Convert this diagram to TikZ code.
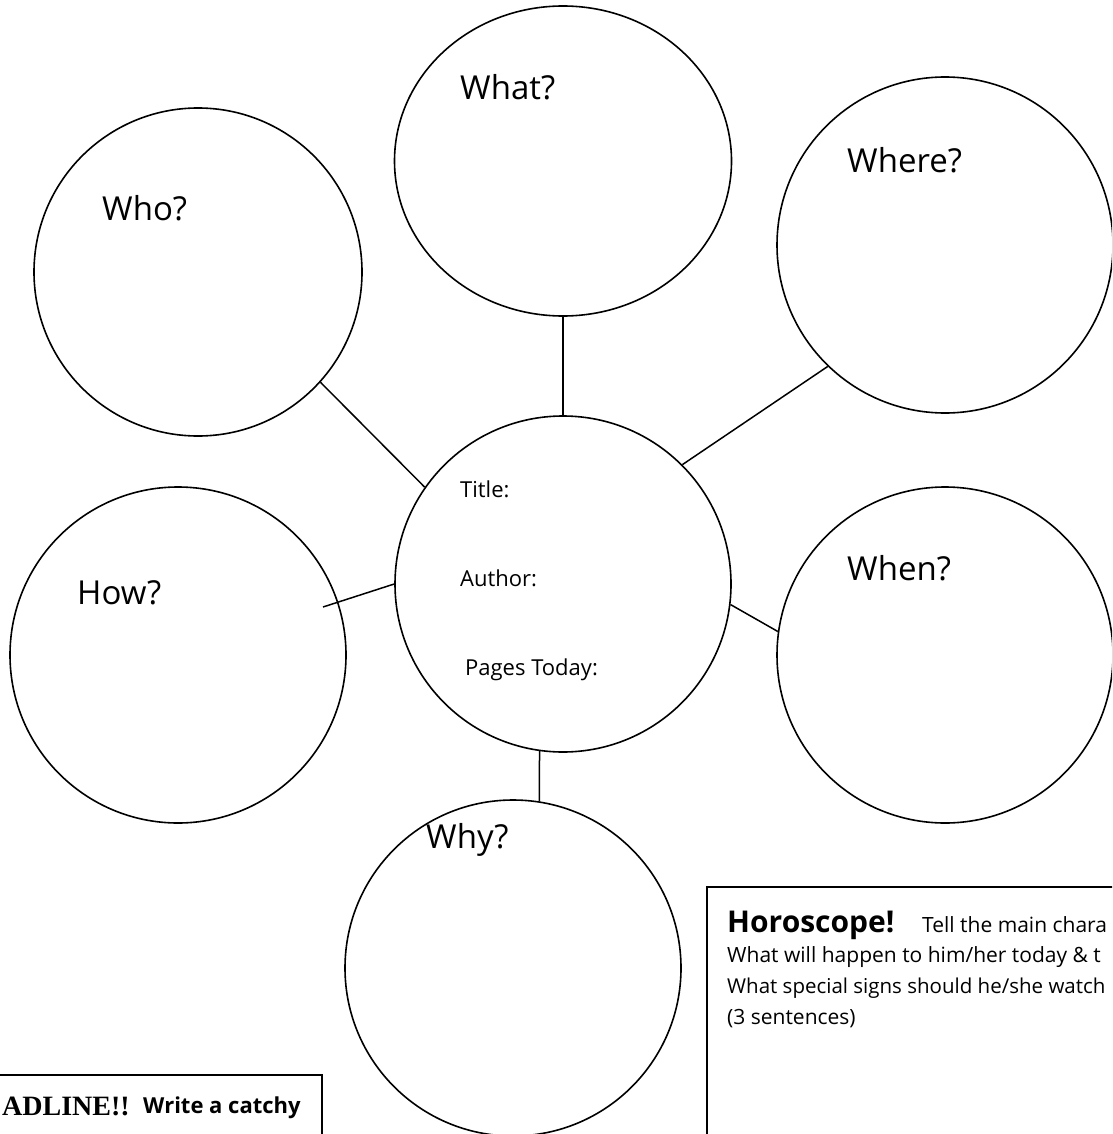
\documentclass[tikz,border=0pt]{standalone}
\usepackage{fontspec}
\setmainfont{Open Sans}
\newfontfamily\headserif{Liberation Serif}
\usetikzlibrary{shapes.geometric}
\begin{document}
\begin{tikzpicture}[x=1pt,y=-1pt,
  bubble/.style={draw, circle, line width=1.6pt, inner sep=0pt},
  oval/.style={draw, ellipse, line width=1.6pt, inner sep=0pt},
  link/.style={line width=1.5pt},
  qlabel/.style={anchor=base west, inner sep=0pt, font=\fontsize{33}{38}\selectfont},
  flabel/.style={anchor=base west, inner sep=0pt, font=\fontsize{22}{26}\selectfont},
  boxtext/.style={anchor=base west, inner sep=0pt, font=\fontsize{21}{25}\selectfont},
  frame/.style={draw, line width=2pt, inner sep=0pt}]
\useasboundingbox (0,0) rectangle (1112,1134);
\clip (0,0) rectangle (1112,1134);
% bubbles
\node[bubble, minimum size=328pt] (who) at (198,272) {};
\node[oval, minimum width=337pt, minimum height=310pt] (what) at (563,161) {};
\node[bubble, minimum size=336pt] (where) at (945,245) {};
\node[bubble, minimum size=336pt] (ctr) at (563,584) {};
\node[bubble, minimum size=336pt] (how) at (178,655) {};
\node[bubble, minimum size=336pt] (when) at (945,655) {};
\node[bubble, minimum size=336pt] (why) at (513,968) {};
% connectors
\coordinate (howin) at (323,607);
\draw[link] (who.-42) -- (ctr.145.4);
\draw[link] (what.south) -- (ctr.north);
\draw[link] (where.-134) -- (ctr.45);
\draw[link] (howin) -- (ctr.180);
\draw[link] (ctr.-7.8) -- (when.172.2);
\draw[link] (ctr.-98.6) -- (why.81.4);
% labels
\node[qlabel] (lwho) at (102,220) {Who?};
\node[qlabel] (lwhat) at (460,100) {What?};
\node[qlabel] (lwhere) at (847,172) {Where?};
\node[qlabel] (lwhen) at (847,580) {When?};
\node[qlabel] (lhow) at (77,604) {How?};
\node[qlabel] (lwhy) at (426,848) {Why?};
\node[flabel] (ltitle) at (460,497) {Title:};
\node[flabel] (lauthor) at (460,586) {Author:};
\node[flabel] (lpages) at (465,675) {Pages Today:};
% horoscope box
\node[frame, anchor=north west, minimum width=450pt, minimum height=300pt] (horobox) at (706,886) {};
\node[anchor=base west, inner sep=0pt, font=\bfseries\fontsize{30}{34}\selectfont] (hhead) at (727,932) {Horoscope!};
\node[boxtext] (h1) at (922,932) {Tell the main chara};
\node[boxtext] (h2) at (727,962) {What will happen to him/her today \& t};
\node[boxtext, font=\fontsize{20.5}{25}\selectfont] (h3) at (727,993) {What special signs should he/she watch};
\node[boxtext] (h4) at (727,1024) {(3 sentences)};
% headline box
\node[frame, anchor=north east, minimum width=400pt, minimum height=200pt] (headbox) at (323,1074) {};
\node[anchor=base west, inner sep=0pt, font=\headserif\bfseries\fontsize{28}{32}\selectfont] (hl) at (2,1115) {ADLINE!!};
\node[anchor=base west, inner sep=0pt, font=\bfseries\fontsize{22}{26}\selectfont] (hw) at (143,1113) {Write a catchy};
\end{tikzpicture}
\end{document}
